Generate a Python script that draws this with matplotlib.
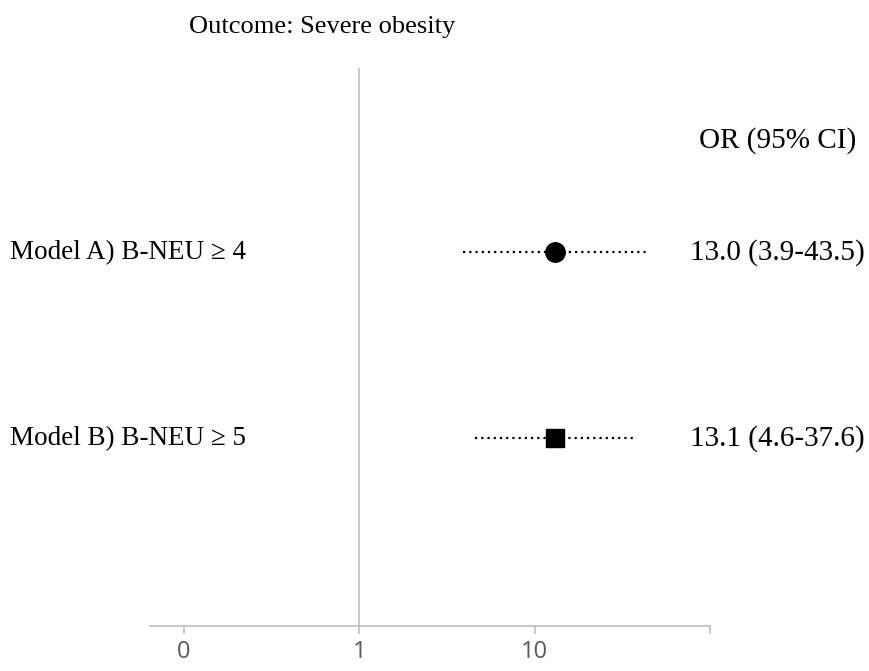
import matplotlib.pyplot as plt
import matplotlib.transforms as mtransforms

# Forest plot data
models = ['Model A) B-NEU \u2265 4', 'Model B) B-NEU \u2265 5']
odds_ratio = [13.0, 13.1]
ci_low = [3.9, 4.6]
ci_high = [43.5, 37.6]
ci_text = ['13.0 (3.9-43.5)', '13.1 (4.6-37.6)']
markers = ['o', 's']
row_pos = [1, 2]

tick_vals = [0.1, 1, 10, 100]
tick_labels = ['0', '1', '10', '']

W, H = 869, 671
fig = plt.figure(figsize=(W / 100, H / 100), dpi=100)
ax = fig.add_axes([150 / W, (H - 626) / H, 560 / W, (626 - 68) / H])

gray = '#bfbfbf'
ax.set_xscale('log')
ax.set_xlim(10 ** (-1 - 34 / 176), 100)
ax.set_ylim(3.01, 0.01)

ax.axvline(1, color=gray, lw=1.2, zorder=1)

for y, orv, lo, hi, m in zip(row_pos, odds_ratio, ci_low, ci_high, markers):
    ax.plot([lo, hi], [y, y], color='black', lw=1.6,
            linestyle=(0, (1, 1.8)), zorder=2)
    ax.plot(orv, y, marker=m, color='black', markersize=14 if m == 'o' else 13,
            zorder=3, linestyle='none')

for s in ['top', 'left', 'right']:
    ax.spines[s].set_visible(False)
ax.spines['bottom'].set_color(gray)
ax.spines['bottom'].set_linewidth(1.2)
ax.set_yticks([])
ax.set_xticks(tick_vals)
ax.set_xticklabels(tick_labels)
ax.xaxis.set_minor_locator(plt.NullLocator())
ax.tick_params(axis='x', colors=gray, length=6, width=1.2, pad=4,
               labelcolor='#595959', labelsize=17)
for lab in ax.get_xticklabels():
    lab.set_fontfamily('Open Sans')

serif = 'Liberation Serif'
trans = mtransforms.blended_transform_factory(fig.transFigure, ax.transData)
for y, name, txt in zip(row_pos, models, ci_text):
    fig.text(10 / W, y, name, transform=trans, ha='left', va='center',
             fontsize=19.5, family=serif)
    fig.text(777 / W, y, txt, transform=trans, ha='center', va='center',
             fontsize=21, family=serif)

fig.text(778 / W, 0.40, 'OR (95% CI)', transform=trans, ha='center',
         va='center', fontsize=21, family=serif)
fig.text(322 / W, 1 - 27 / H, 'Outcome: Severe obesity', ha='center',
         va='center', fontsize=19, family=serif)

fig.savefig('out.png', dpi=100)
